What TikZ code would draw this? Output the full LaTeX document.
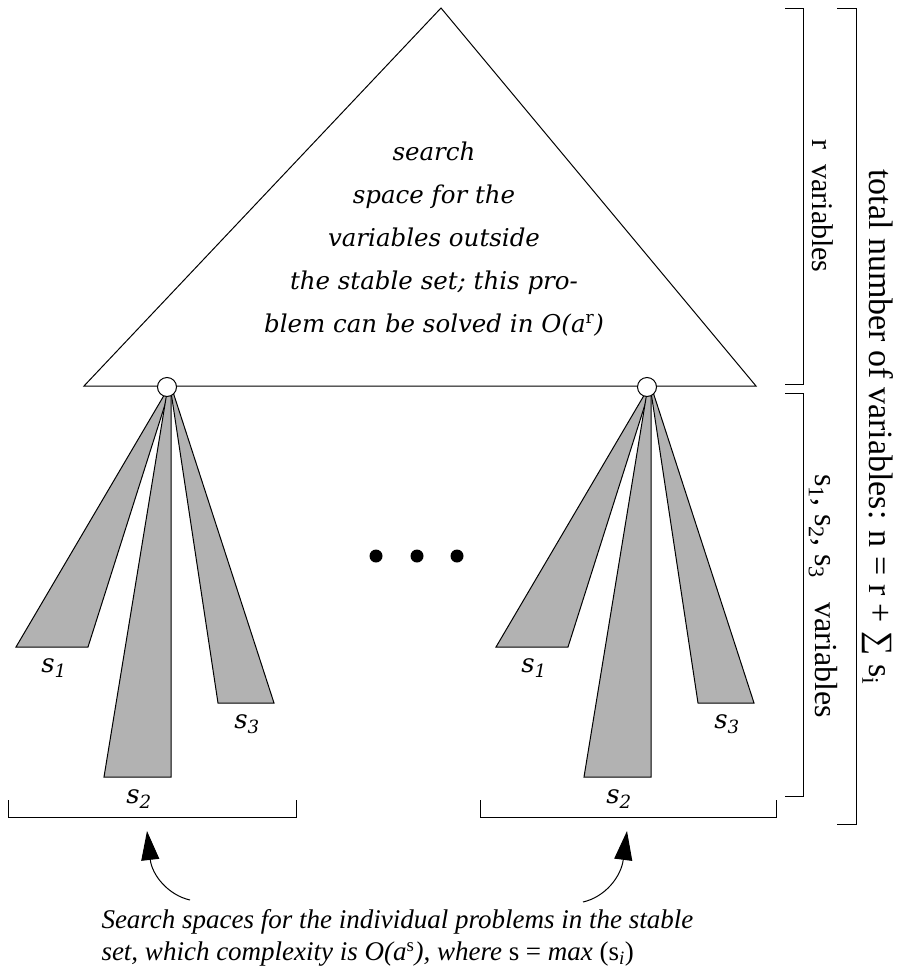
\documentclass[tikz,border=0pt]{standalone}
\usepackage{fontspec}
\setmainfont{Liberation Serif}
\newfontfamily\dvs{DejaVu Serif}
\usetikzlibrary{arrows.meta}
\begin{document}
\begin{tikzpicture}[x=1pt,y=-1pt,line width=1pt,
  wedge/.style={draw,fill=black!30,line join=miter},
  hub/.style={draw,fill=white,circle,minimum size=19pt,inner sep=0pt},
  dotm/.style={fill=black,circle,minimum size=13pt,inner sep=0pt},
  slab/.style={font=\dvs\itshape\fontsize{26}{30}\selectfont,inner sep=0pt},
  sidetext/.style={rotate=-90,inner sep=0pt},
  pointer/.style={-{Triangle[length=29pt,width=18pt]},line width=1pt},
  brk/.style={line width=1pt}]
\useasboundingbox (0,0) rectangle (899,972);
% triangle
\draw[line join=miter] (441,8) -- (84,386) -- (756,386) -- cycle;
\node[align=center,inner sep=0pt,font=\dvs\itshape\fontsize{24.5}{43}\selectfont] (tri) at (434,239)
  {search\\space for the\\variables outside\\the stable set; this pro-\\blem can be solved in O(a\textsuperscript{\upshape r})};
% fans
\foreach \cx/\nm in {167/L,647/R}{
  \draw[wedge] (\cx-151,647) -- (\cx-1,392) -- (\cx+2,392) -- (\cx-79,647) -- cycle;
  \draw[wedge] (\cx-63,777) -- (\cx,392) -- (\cx+4,392) -- (\cx+4,777) -- cycle;
  \draw[wedge] (\cx+51,703) -- (\cx+4,392) -- (\cx+6,392) -- (\cx+107,703) -- cycle;
  \node[hub] (hub\nm) at (\cx,387) {};
  \node[slab] (sa\nm) at (\cx-113,668) {s\textsubscript{1}};
  \node[slab] (sb\nm) at (\cx-28,799) {s\textsubscript{2}};
  \node[slab] (sc\nm) at (\cx+80,724) {s\textsubscript{3}};
}
% dots
\node[dotm] (d1) at (376,556) {};
\node[dotm] (d2) at (417,556) {};
\node[dotm] (d3) at (457,556) {};
% bottom brackets
\draw[brk] (8,800) -- (8,817) -- (296,817) -- (296,800);
\draw[brk] (480,800) -- (480,817) -- (776,817) -- (776,800);
% right brackets
\draw[brk] (785,8) -- (803,8) -- (803,384) -- (785,384);
\draw[brk] (785,393) -- (803,393) -- (803,796) -- (785,796);
\draw[brk] (837,8) -- (856,8) -- (856,824) -- (837,824);
\node[sidetext,font=\fontsize{30}{34}\selectfont] (rv) at (823,206) {r\ \ variables};
\node[sidetext,font=\fontsize{32}{36}\selectfont] (sv) at (823,596) {s\textsubscript{1}, s\textsubscript{2}, s\textsubscript{3}\ \ \ variables};
\node[sidetext,font=\fontsize{34}{38}\selectfont] (tv) at (878,427) {total number of variables: n = r + ∑ s\textsubscript{i}};
% arrows
\coordinate (lt) at (190,900);
\coordinate (lh) at (147,831);
\coordinate (rt) at (583,902);
\coordinate (rh) at (627,831);
\draw[pointer] (lt) .. controls (168,895) and (152,875) .. (lh);
\draw[pointer] (rt) .. controls (605,897) and (621,877) .. (rh);
% caption
\node[anchor=north west,align=left,inner sep=0pt,font=\itshape\fontsize{27}{32}\selectfont] (cap) at (101,909)
  {Search spaces for the individual problems in the stable\\set, which complexity is O(a\textsuperscript{\upshape s}), where {\upshape s =} max {\upshape (s}\textsubscript{i}{\upshape )}};
\end{tikzpicture}
\end{document}
